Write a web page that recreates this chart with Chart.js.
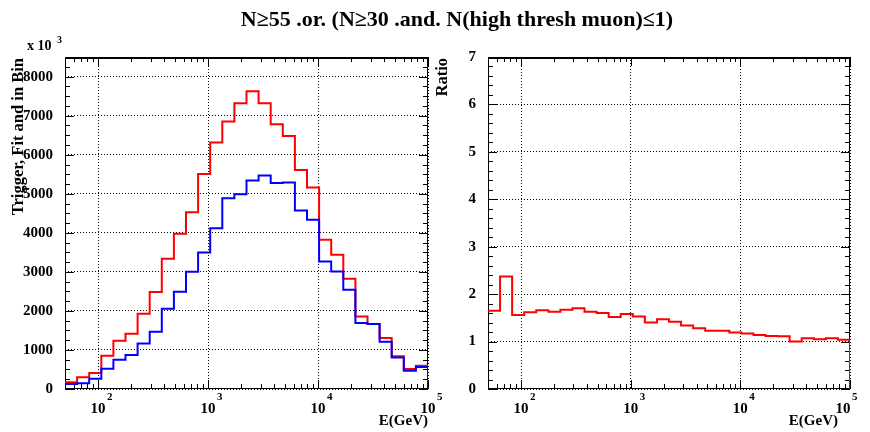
<!DOCTYPE html>
<html><head><meta charset="utf-8">
<script src="https://cdn.jsdelivr.net/npm/chart.js@4"></script>
<style>
html,body{margin:0;padding:0;background:#fff;width:870px;height:432px;overflow:hidden}
canvas{position:absolute;left:0;top:0}
</style></head><body>
<canvas id="c1" width="870" height="432"></canvas>
<canvas id="c2" width="870" height="432"></canvas>
<script>
// ---- data ----
const E_MIN = 50, E_MAX = 100000, N_BINS = 30;            // 30 log bins, 50 GeV .. 1e5 GeV
const xTickValues = [100, 1000, 10000, 100000];
const xTickLabels = ['10', '10', '10', '10'];
const xTickExponents = ['2', '3', '4', '5'];
const yTicksLeft = [0, 1000, 2000, 3000, 4000, 5000, 6000, 7000, 8000];
const yTicksRight = [0, 1, 2, 3, 4, 5, 6, 7];
const redCounts = [170, 300, 410, 853, 1237, 1416, 1927, 2482, 3335, 3974,
                   4529, 5510, 6311, 6849, 7318, 7625, 7318, 6780, 6482, 5612,
                   5160, 3821, 3437, 2823, 1859, 1663, 1305, 836, 512, 597];
const blueCounts = [128, 145, 264, 520, 750, 870, 1168, 1467, 2055, 2490,
                    3002, 3497, 4119, 4887, 4989, 5339, 5467, 5279, 5288, 4571,
                    4333, 3266, 3011, 2542, 1689, 1663, 1211, 810, 469, 563];
const ratioValues = [1.65, 2.37, 1.56, 1.62, 1.66, 1.63, 1.67, 1.70, 1.63, 1.60,
                     1.52, 1.58, 1.53, 1.40, 1.47, 1.42, 1.34, 1.28, 1.23, 1.23,
                     1.19, 1.17, 1.14, 1.12, 1.11, 1.00, 1.07, 1.05, 1.07, 1.04];
const titleText = 'N\u226555 .or. (N\u226530 .and. N(high thresh muon)\u22641)';

// ---- bin edges (log spaced) ----
const binEdges = [];
for (let i = 0; i <= N_BINS; i++) {
  binEdges.push(Math.pow(10, Math.log10(E_MIN) + i * (Math.log10(E_MAX) - Math.log10(E_MIN)) / N_BINS));
}
function histPoints(vals) {
  const pts = [{x: binEdges[0], y: 0}];
  vals.forEach((v, i) => pts.push({x: binEdges[i], y: v}));
  pts.push({x: binEdges[vals.length], y: vals[vals.length - 1]});
  pts.push({x: binEdges[vals.length], y: 0});
  return pts;
}

const FONT = '"Liberation Serif", "Times New Roman", serif';

const rootStyle = {
  id: 'rootStyle',
  beforeDatasetsDraw(chart, args, o) {
    const {ctx, chartArea: a, scales: {x, y}} = chart;
    ctx.save();
    ctx.strokeStyle = '#000';
    ctx.lineWidth = 1;
    ctx.beginPath();
    for (let d = 1; d <= 5; d++) {
      for (let m = 1; m <= 9; m++) {
        const v = m * Math.pow(10, d);
        if (v < x.min || v > x.max) continue;
        const len = m === 1 ? 9 : 5;
        const px = Math.round(x.getPixelForValue(v)) + 0.5;
        ctx.moveTo(px, a.bottom); ctx.lineTo(px, a.bottom - len);
        ctx.moveTo(px, a.top); ctx.lineTo(px, a.top + len);
      }
    }
    const nMinor = Math.round((y.max - y.min) / o.yMinor);
    for (let i = 0; i <= nMinor; i++) {
      const v = y.min + i * o.yMinor;
      const isMajor = Math.abs(v / o.yMajor - Math.round(v / o.yMajor)) < 1e-6;
      const len = isMajor ? 9 : 5;
      const py = Math.round(y.getPixelForValue(v)) + 0.5;
      ctx.moveTo(a.left, py); ctx.lineTo(a.left + len, py);
      ctx.moveTo(a.right, py); ctx.lineTo(a.right - len, py);
    }
    ctx.stroke();
    ctx.strokeRect(Math.round(a.left) + 0.5, Math.round(a.top) + 0.5,
                   Math.round(a.right - a.left) - 1, Math.round(a.bottom - a.top) - 1);
    ctx.lineWidth = 2;
    ctx.beginPath(); ctx.moveTo(a.left, a.top + 1); ctx.lineTo(a.right, a.top + 1); ctx.stroke();
    ctx.restore();
  },
  afterDraw(chart, args, o) {
    const {ctx, chartArea: a, scales: {x, y}} = chart;
    ctx.save();
    ctx.fillStyle = '#000';
    xTickValues.forEach((v, i) => {
      let px = x.getPixelForValue(v) + (o.xLabelShift[i] || 0);
      ctx.font = 'bold 15px ' + FONT;
      ctx.textAlign = 'center'; ctx.textBaseline = 'alphabetic';
      ctx.fillText(xTickLabels[i], px, a.bottom + 24);
      const w = ctx.measureText(xTickLabels[i]).width;
      ctx.font = 'bold 11px ' + FONT;
      ctx.textAlign = 'left';
      ctx.fillText(xTickExponents[i], px + w / 2 + 1.5, a.bottom + 11);
    });
    ctx.font = 'bold 15px ' + FONT;
    ctx.textAlign = 'right';
    ctx.fillText(o.xTitle, o.xTitleRight, a.bottom + 36);
    ctx.save();
    ctx.font = 'bold ' + o.yTitleSize + 'px ' + FONT;
    ctx.translate(o.yTitleX, a.top + 1);
    ctx.rotate(-Math.PI / 2);
    ctx.textAlign = 'right'; ctx.textBaseline = 'middle';
    ctx.fillText(o.yTitle, 0, 0);
    ctx.restore();
    if (o.multiplier) {
      ctx.font = 'bold 14px ' + FONT;
      ctx.textAlign = 'left'; ctx.textBaseline = 'alphabetic';
      ctx.fillText('x 10', 27, 50);
      ctx.font = 'bold 10px ' + FONT;
      ctx.fillText('3', 57, 43);
    }
    if (o.title) {
      ctx.font = 'bold 22px ' + FONT;
      ctx.textAlign = 'center'; ctx.textBaseline = 'alphabetic';
      ctx.fillText(o.title, 457, 26);
    }
    ctx.restore();
  }
};

function makeOptions(cfg) {
  return {
    responsive: false, animation: false, events: [],
    layout: {padding: {left: cfg.padLeft, right: cfg.padRight, top: 57, bottom: 0}},
    plugins: {legend: {display: false}, tooltip: {enabled: false}, rootStyle: cfg.root},
    elements: {point: {radius: 0}, line: {borderWidth: 2, tension: 0}},
    scales: {
      x: {
        type: 'logarithmic', min: E_MIN, max: E_MAX,
        afterBuildTicks: s => { s.ticks = xTickValues.map(v => ({value: v})); },
        afterFit: s => { s.height = 43; },
        ticks: {display: false},
        grid: {color: '#000', lineWidth: 1, drawTicks: false},
        border: {display: false, dash: [1, 2]}
      },
      y: {
        type: 'linear', min: 0, max: cfg.yMax,
        afterBuildTicks: s => { s.ticks = cfg.yTicks.map(v => ({value: v})); },
        afterFit: s => { s.width = cfg.yWidth; },
        ticks: {color: '#000', padding: 12, font: {family: FONT, weight: 'bold', size: 15},
                callback: v => String(v)},
        grid: {color: '#000', lineWidth: 1, drawTicks: false},
        border: {display: false, dash: [1, 2]}
      }
    }
  };
}

new Chart(document.getElementById('c1'), {
  type: 'line',
  data: {datasets: [
    {data: histPoints(blueCounts), borderColor: '#0000ff', stepped: 'before', fill: false},
    {data: histPoints(redCounts), borderColor: '#ff0000', stepped: 'before', fill: false}
  ]},
  options: makeOptions({padLeft: 0, padRight: 442, yWidth: 65, yMax: 8504, yTicks: yTicksLeft,
    root: {yMinor: 250, yMajor: 1000, xLabelShift: [0, 0, 0, 0], xTitle: 'E(GeV)', xTitleRight: 428,
           yTitle: 'Trigger, Fit and in Bin', yTitleX: 19, yTitleSize: 16.5, multiplier: true, title: titleText}}),
  plugins: [rootStyle]
});

new Chart(document.getElementById('c2'), {
  type: 'line',
  data: {datasets: [
    {data: histPoints(ratioValues), borderColor: '#ff0000', stepped: 'before', fill: false}
  ]},
  options: makeOptions({padLeft: 430, padRight: 20, yWidth: 58, yMax: 7, yTicks: yTicksRight,
    root: {yMinor: 0.2, yMajor: 1, xLabelShift: [0, 0, 0, -7], xTitle: 'E(GeV)', xTitleRight: 838,
           yTitle: 'Ratio', yTitleX: 443, yTitleSize: 16.5, multiplier: false, title: null}}),
  plugins: [rootStyle]
});
</script>
</body></html>
